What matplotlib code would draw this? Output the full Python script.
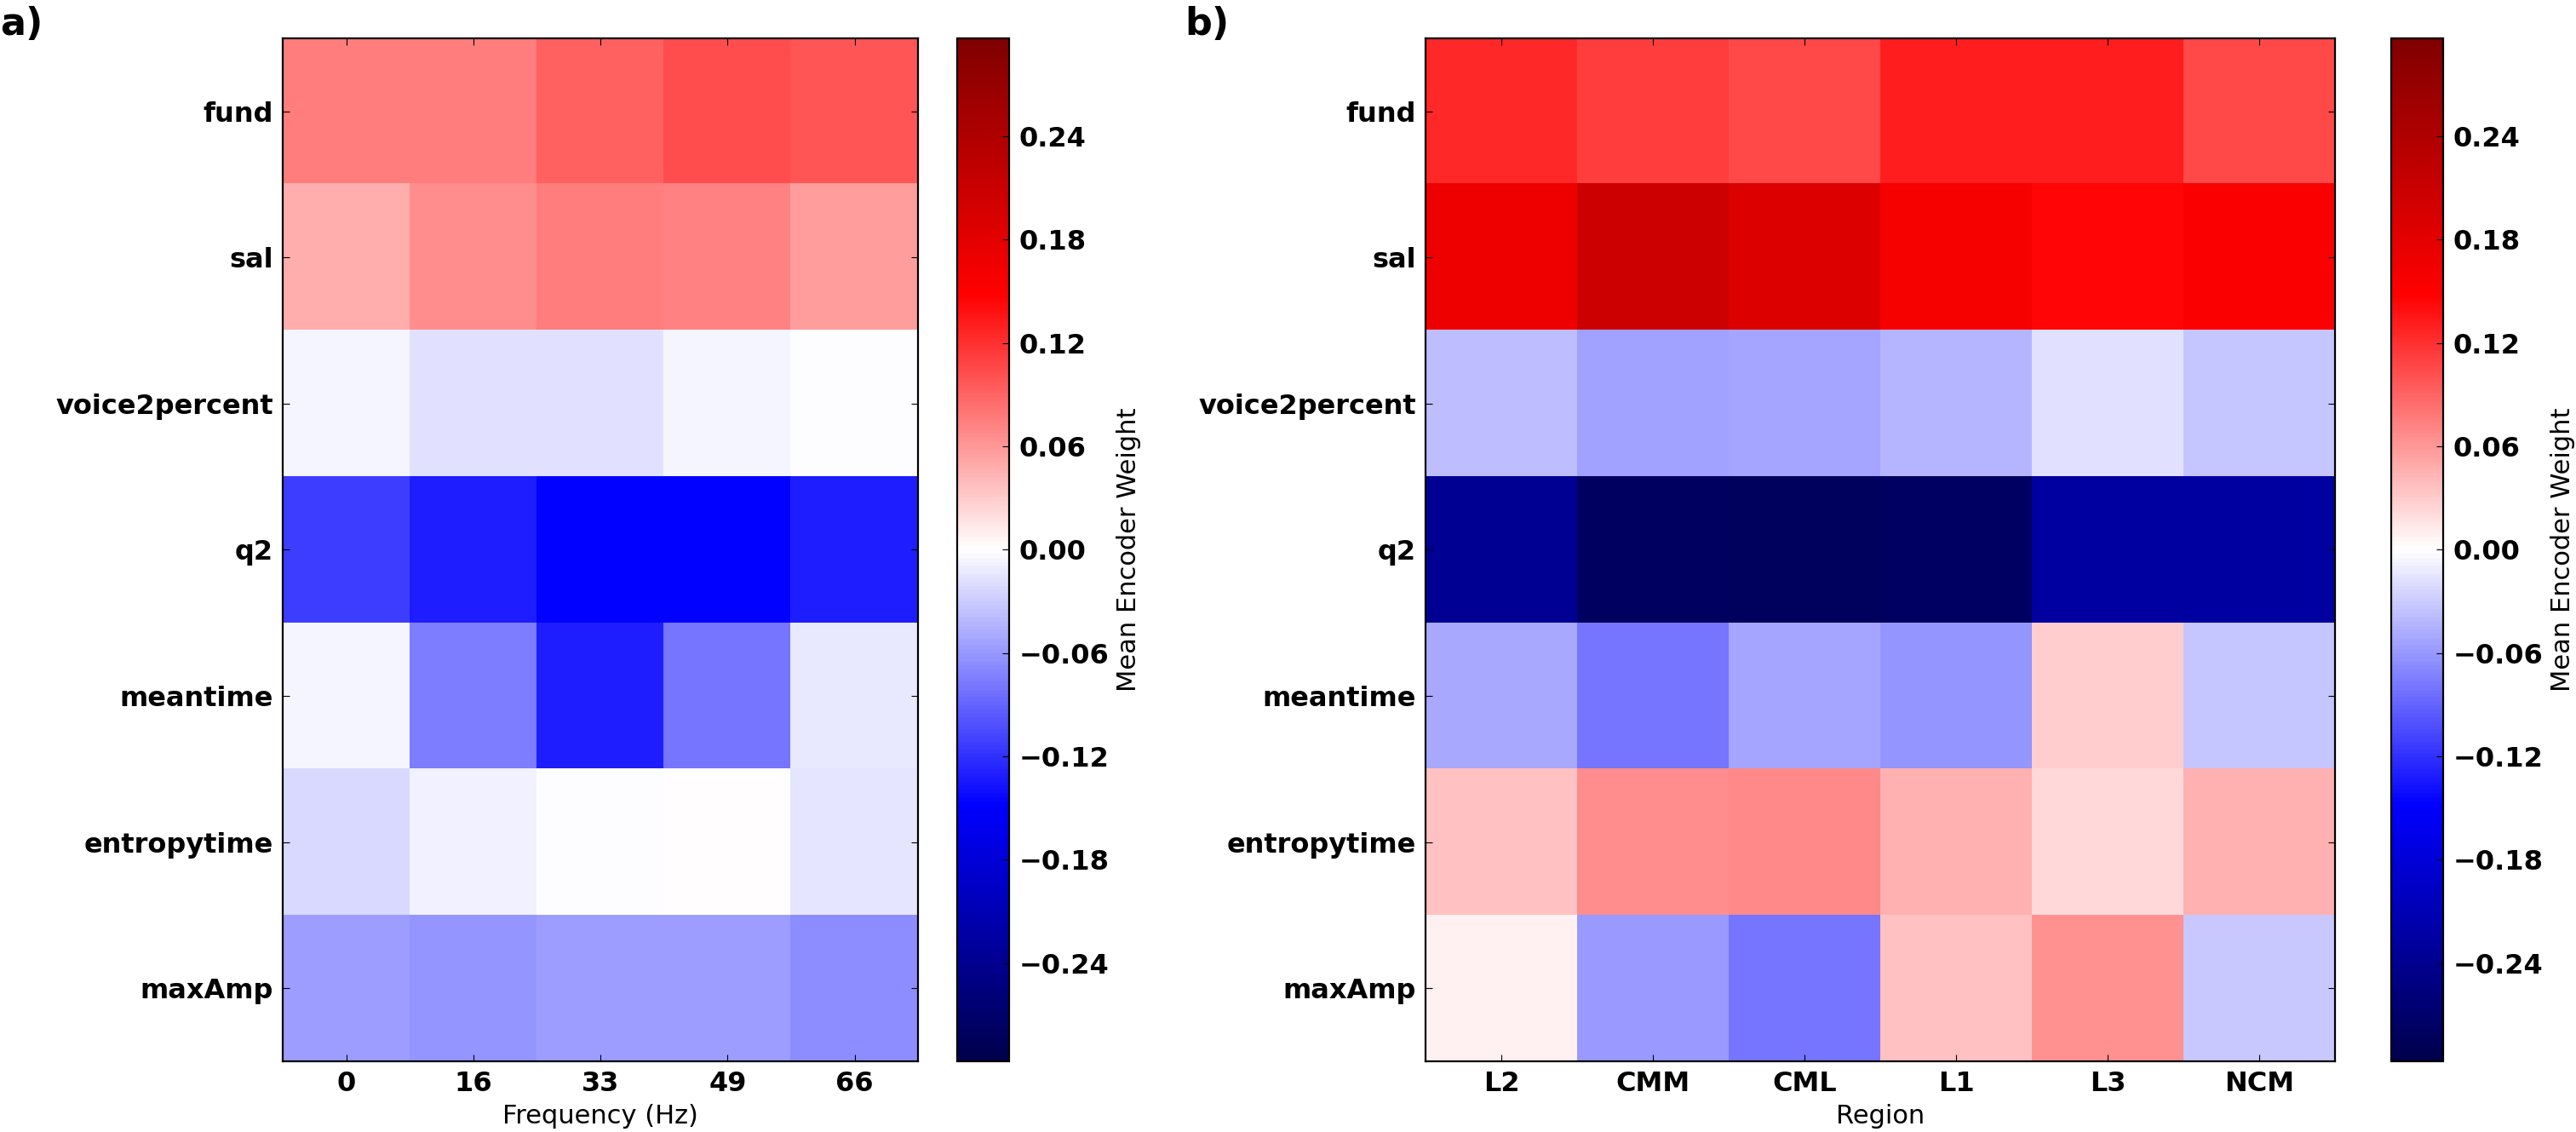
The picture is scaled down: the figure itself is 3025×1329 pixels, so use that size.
import matplotlib
matplotlib.use('Agg')
import matplotlib.pyplot as plt
import numpy as np

features = ['fund', 'sal', 'voice2percent', 'q2', 'meantime', 'entropytime', 'maxAmp']
freqs = ['0', '16', '33', '49', '66']
regions = ['L2', 'CMM', 'CML', 'L1', 'L3', 'NCM']

# mean encoder weight per feature (rows) and frequency band (cols)
fund_freq = [0.075, 0.075, 0.092, 0.103, 0.098]
sal_freq = [0.047, 0.065, 0.075, 0.074, 0.056]
voice_freq = [-0.0065, -0.017, -0.017, -0.0065, -0.002]
q2_freq = [-0.1125, -0.131, -0.147, -0.147, -0.132]
meantime_freq = [-0.006, -0.075, -0.131, -0.079, -0.012]
entropy_freq = [-0.023, -0.008, -0.002, 0.001, -0.014]
maxamp_freq = [-0.056, -0.061, -0.058, -0.058, -0.065]

# mean encoder weight per feature (rows) and region (cols)
fund_reg = [0.125, 0.112, 0.106, 0.132, 0.131, 0.106]
sal_reg = [0.165, 0.205, 0.186, 0.156, 0.145, 0.153]
voice_reg = [-0.038, -0.055, -0.053, -0.042, -0.018, -0.034]
q2_reg = [-0.238, -0.280, -0.281, -0.278, -0.226, -0.226]
meantime_reg = [-0.049, -0.079, -0.053, -0.062, 0.029, -0.034]
entropy_reg = [0.037, 0.065, 0.068, 0.045, 0.022, 0.045]
maxamp_reg = [0.007, -0.059, -0.079, 0.037, 0.063, -0.032]

cb_ticks = [-0.24, -0.18, -0.12, -0.06, 0.0, 0.06, 0.12, 0.18, 0.24]

VMAX = 0.297

plt.rcParams['font.family'] = 'DejaVu Sans'
plt.rcParams['xtick.direction'] = 'in'
plt.rcParams['ytick.direction'] = 'in'
plt.rcParams['xtick.major.size'] = 6
plt.rcParams['ytick.major.size'] = 6
plt.rcParams['axes.linewidth'] = 1.6


def fmt(t):
    s = '%.2f' % abs(t)
    return ('\u2212' + s) if t < 0 else s


def heatmap(fig, rect, cbrect, data, xlabels, xtitle, panel, panel_x):
    ax = fig.add_axes(rect)
    im = ax.imshow(data, cmap='seismic', vmin=-VMAX, vmax=VMAX,
                   aspect='auto', interpolation='nearest')
    ax.set_xticks(np.arange(len(xlabels)))
    ax.set_xticklabels(xlabels, fontsize=23, fontweight='bold')
    ax.set_yticks(np.arange(len(features)))
    ax.set_yticklabels(features, fontsize=23, fontweight='bold')
    ax.tick_params(top=True, right=True, pad=8)
    ax.set_xlabel(xtitle, fontsize=22, labelpad=6)

    cax = fig.add_axes(cbrect)
    cb = fig.colorbar(im, cax=cax, ticks=cb_ticks)
    cb.ax.set_yticklabels([fmt(t) for t in cb_ticks],
                          fontsize=23, fontweight='bold')
    cb.ax.tick_params(direction='in', length=6, pad=8)
    cb.outline.set_linewidth(1.6)
    cb.set_label('Mean Encoder Weight', fontsize=22, labelpad=6)

    fig.text(panel_x, 0.995, panel, fontsize=32, fontweight='bold',
             ha='left', va='top')
    return ax


def main():
    fig = plt.figure(figsize=(30.25, 13.29), dpi=100)

    data_a = np.array([fund_freq, sal_freq, voice_freq, q2_freq,
                       meantime_freq, entropy_freq, maxamp_freq])
    data_b = np.array([fund_reg, sal_reg, voice_reg, q2_reg,
                       meantime_reg, entropy_reg, maxamp_reg])

    heatmap(fig, [0.1098, 0.0625, 0.2466, 0.9037], [0.3716, 0.0625, 0.0202, 0.9037],
            data_a, freqs, 'Frequency (Hz)', 'a)', 0.0)
    heatmap(fig, [0.5534, 0.0625, 0.3531, 0.9037], [0.9283, 0.0625, 0.0202, 0.9037],
            data_b, regions, 'Region', 'b)', 0.46)

    fig.savefig('out.png', dpi=100)
    plt.close()


if __name__ == '__main__':
    main()
